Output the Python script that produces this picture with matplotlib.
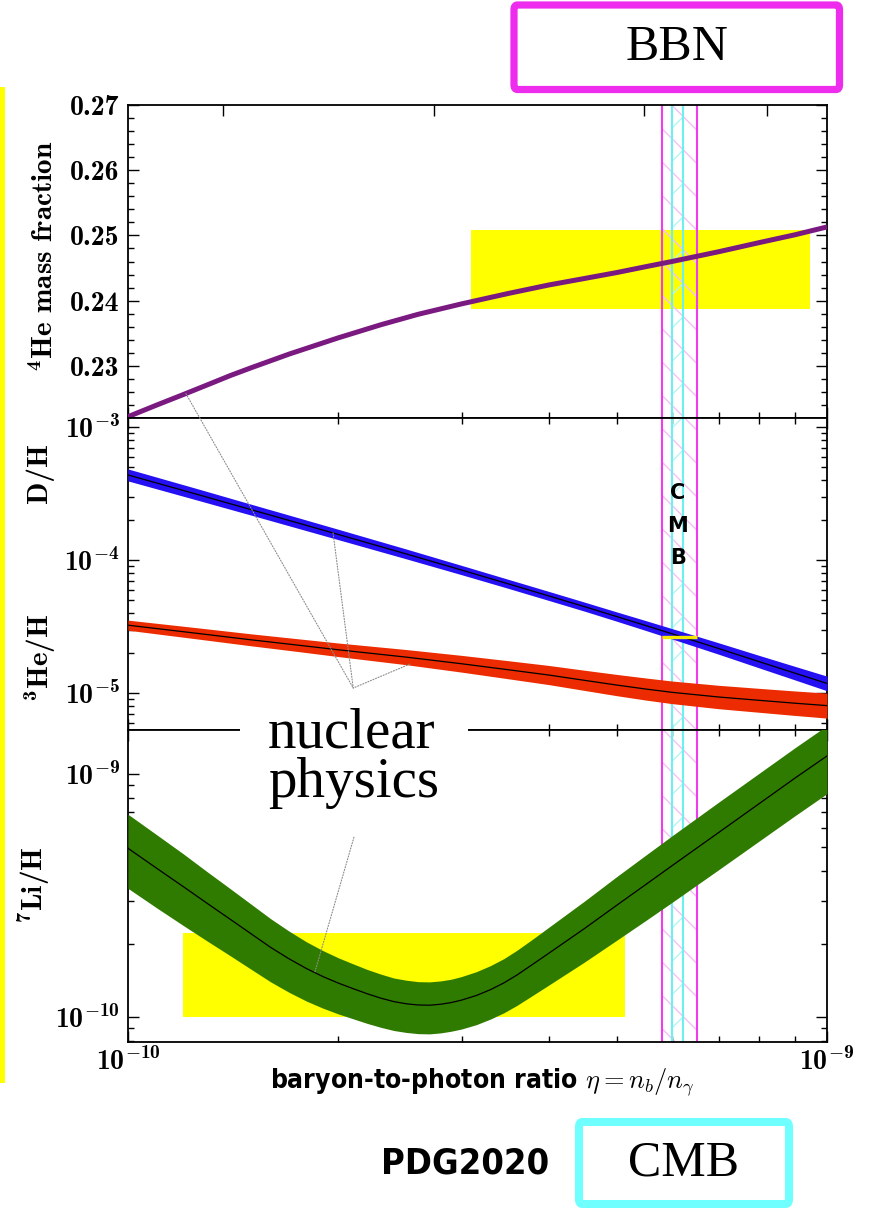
import numpy as np
import matplotlib
matplotlib.use('Agg')
import matplotlib.pyplot as plt
from matplotlib.patches import Rectangle, FancyBboxPatch, ConnectionPatch
from matplotlib.ticker import (LogLocator, FixedLocator, NullLocator,
                               MultipleLocator, NullFormatter)
from matplotlib import font_manager, transforms

plt.rcParams['mathtext.fontset'] = 'cm'
plt.rcParams['hatch.linewidth'] = 1.0

# ---------------- data ----------------
# 4He mass fraction vs eta (in units of 1e-10)
eta_he4 = [1.0, 1.1, 1.2, 1.3, 1.4, 1.5, 1.7, 2.0, 2.3, 2.6, 3.0, 3.5, 4.0,
           4.5, 5.0, 5.5, 6.0, 7.0, 8.0, 9.0, 10.0]
yp_he4 = [0.2222, 0.2240, 0.2256, 0.2271, 0.2285, 0.2297, 0.2318, 0.2343,
          0.2363, 0.2379, 0.2395, 0.2411, 0.2424, 0.2434, 0.2443, 0.2452,
          0.2460, 0.2475, 0.2489, 0.2501, 0.2513]

# D/H and 3He/H vs eta (units 1e-10)
eta_mid = [1.0, 1.25, 1.5, 1.75, 2.0, 2.5, 3.0, 3.5, 4.0, 4.5, 5.0, 5.5, 6.0,
           7.0, 8.0, 9.0, 10.0]
dh_center = [4.365e-4, 3.14e-4, 2.393e-4, 1.901e-4, 1.556e-4, 1.112e-4,
             8.41e-5, 6.62e-5, 5.37e-5, 4.46e-5, 3.76e-5, 3.22e-5, 2.79e-5,
             2.16e-5, 1.72e-5, 1.41e-5, 1.18e-5]
dh_halfwidth_dex = [0.045, 0.043, 0.041, 0.040, 0.039, 0.037, 0.035, 0.034,
                    0.034, 0.034, 0.035, 0.037, 0.039, 0.043, 0.047, 0.051,
                    0.055]
he3_center = [3.236e-5, 2.818e-5, 2.512e-5, 2.291e-5, 2.113e-5, 1.862e-5,
              1.660e-5, 1.496e-5, 1.365e-5, 1.245e-5, 1.148e-5, 1.072e-5,
              1.012e-5, 9.33e-6, 8.81e-6, 8.38e-6, 8.04e-6]
he3_halfwidth_dex = [0.038, 0.042, 0.045, 0.048, 0.051, 0.057, 0.063, 0.068,
                     0.072, 0.076, 0.080, 0.083, 0.085, 0.088, 0.090, 0.092,
                     0.094]

# 7Li/H vs eta (units 1e-10), log10 of the value
eta_li = [1.0, 1.1, 1.2, 1.3, 1.4, 1.5, 1.6, 1.7, 1.8, 1.9, 2.0, 2.1, 2.2,
          2.3, 2.4, 2.5, 2.6, 2.7, 2.8, 2.9, 3.0, 3.15, 3.3, 3.45, 3.6, 3.8,
          4.0, 4.5, 5.0, 5.5, 6.0, 7.0, 8.0, 9.0, 10.0]
li_log_center = [-9.305, -9.388, -9.463, -9.533, -9.597, -9.657, -9.713,
                 -9.760, -9.800, -9.833, -9.860, -9.883, -9.904, -9.922,
                 -9.936, -9.945, -9.950, -9.951, -9.947, -9.940, -9.930,
                 -9.911, -9.887, -9.859, -9.827, -9.781, -9.737, -9.635,
                 -9.540, -9.455, -9.377, -9.240, -9.121, -9.016, -8.925]
li_err_up_dex = [0.140, 0.138, 0.135, 0.130, 0.126, 0.122, 0.118, 0.114,
                 0.110, 0.107, 0.104, 0.102, 0.100, 0.099, 0.097, 0.097,
                 0.096, 0.096, 0.096, 0.096, 0.097, 0.098, 0.099, 0.100,
                 0.102, 0.104, 0.107, 0.113, 0.118, 0.121, 0.123, 0.125,
                 0.125, 0.125, 0.125]
li_err_dn_dex = [0.165, 0.163, 0.160, 0.155, 0.150, 0.146, 0.142, 0.138,
                 0.134, 0.130, 0.127, 0.124, 0.122, 0.120, 0.119, 0.118,
                 0.118, 0.118, 0.118, 0.118, 0.119, 0.120, 0.121, 0.123,
                 0.125, 0.128, 0.131, 0.138, 0.144, 0.148, 0.151, 0.153,
                 0.154, 0.155, 0.155]

# tick labels
he4_ticks = [0.23, 0.24, 0.25, 0.26, 0.27]
mid_ticks = [1e-5, 1e-4, 1e-3]
li_ticks = [1e-10, 1e-9]
x_ticks = [1e-10, 1e-9]

# observational boxes
he4_box_eta = [3.10, 9.46]          # 1e-10
he4_box_y = [0.2387, 0.2508]
li_box_eta = [1.20, 5.14]           # 1e-10
li_box_y = [1.0e-10, 2.22e-10]
dh_obs_value = 2.64e-5

# CMB / BBN eta ranges (1e-10)
bbn_range = [5.81, 6.51]
cmb_range = [6.01, 6.22]

# top axis: baryon density Omega_b h^2 tick positions
omega_ticks = [0.005, 0.01, 0.02, 0.03]
eta_per_omega = 273.9  # eta_10 = 273.9 * Omega_b h^2

# ---------------- colours ----------------
C_PURPLE = '#7a1a80'
C_BLUE = '#2410f2'
C_RED = '#ec2c00'
C_GREEN = '#2f7b00'
C_YELLOW = '#ffff00'
C_MAG = '#ee3cee'
C_CYAN = '#6cf0f0'
C_MAG_H = '#f6c0f6'
C_CYAN_H = '#b8f4f4'

W, H = 869, 1209
fig = plt.figure(figsize=(W / 100, H / 100), dpi=100)


def fx(x):
    return x / W


def fy(y):
    return 1 - y / H


def pick(fams):
    for f in fams:
        try:
            font_manager.findfont(f, fallback_to_default=False)
            return f
        except Exception:
            pass
    return None


SERIF = pick(['Liberation Serif', 'DejaVu Serif']) or 'DejaVu Serif'
has_condensed = any(('Condensed' in f.fname and 'DejaVuSans' in f.fname)
                    for f in font_manager.fontManager.ttflist)
NARROW = pick(['Liberation Sans Narrow', 'DejaVu Sans']) or 'DejaVu Sans'
STRETCH = 'condensed' if has_condensed else 'normal'

# bold Computer Modern for tick labels / axis labels
BOLDCM = pick(['cmb10'])
if BOLDCM:
    plt.rcParams['mathtext.rm'] = BOLDCM
    plt.rcParams['mathtext.it'] = BOLDCM
    plt.rcParams['mathtext.bf'] = BOLDCM
    BOLD_KW = dict(family=BOLDCM, math_fontfamily='custom')
else:
    BOLD_KW = dict(family='DejaVu Serif', fontweight='bold',
                   math_fontfamily='dejavuserif')

TICK_FS = 20


def pow_label(v):
    return r'$10^{%d}$' % int(round(np.log10(v)))


L, R = 128, 827
ax1 = fig.add_axes([fx(L), fy(418), (R - L) / W, (418 - 105) / H])
ax2 = fig.add_axes([fx(L), fy(730), (R - L) / W, (730 - 418) / H])
ax3 = fig.add_axes([fx(L), fy(1042), (R - L) / W, (1042 - 730) / H])

e1 = np.array(eta_he4) * 1e-10
em = np.array(eta_mid) * 1e-10
el = np.array(eta_li) * 1e-10

ax2.set_yscale('log')
ax3.set_yscale('log')

for ax in (ax1, ax2, ax3):
    ax.set_xscale('log')
    ax.set_xlim(1e-10, 1e-9)
    for s in ax.spines.values():
        s.set_linewidth(1.3)
    # BBN and CMB bands
    ax.axvspan(bbn_range[0] * 1e-10, bbn_range[1] * 1e-10, facecolor='none',
               edgecolor=C_MAG_H, hatch='\\', lw=0, zorder=1.5)
    ax.axvspan(cmb_range[0] * 1e-10, cmb_range[1] * 1e-10, facecolor='none',
               edgecolor=C_CYAN_H, hatch='/', lw=0, zorder=1.6)
    for v in bbn_range:
        ax.axvline(v * 1e-10, color=C_MAG, lw=1.5, zorder=1.7)
    for v in cmb_range:
        ax.axvline(v * 1e-10, color=C_CYAN, lw=1.5, zorder=1.8)

# ---- top panel: 4He ----
ax1.add_patch(Rectangle((he4_box_eta[0] * 1e-10, he4_box_y[0]),
                        (he4_box_eta[1] - he4_box_eta[0]) * 1e-10,
                        he4_box_y[1] - he4_box_y[0],
                        facecolor=C_YELLOW, edgecolor='none', zorder=1))
ax1.plot(e1, yp_he4, color=C_PURPLE, lw=3.6, zorder=3, solid_capstyle='butt')

# ---- middle panel: D/H and 3He/H ----
dh = np.array(dh_center)
dhw = 10 ** np.array(dh_halfwidth_dex)
ax2.fill_between(em, dh / dhw, dh * dhw, color=C_BLUE, lw=0, zorder=3)
ax2.plot(em, dh, color='black', lw=0.9, zorder=4)
h3 = np.array(he3_center)
h3w = 10 ** np.array(he3_halfwidth_dex)
ax2.fill_between(em, h3 / h3w, h3 * h3w, color=C_RED, lw=0, zorder=3)
ax2.plot(em, h3, color='black', lw=0.9, zorder=4)
ax2.plot([bbn_range[0] * 1e-10, bbn_range[1] * 1e-10],
         [dh_obs_value, dh_obs_value], color='#f4e800', lw=2.4, zorder=5,
         solid_capstyle='butt')
cmb_mid = np.sqrt(cmb_range[0] * cmb_range[1]) * 1e-10
tr = transforms.blended_transform_factory(ax2.transData, ax2.transAxes)
for letter, yy in zip('CMB', [493, 526, 558]):
    ax2.text(cmb_mid, (730 - yy) / 312, letter, transform=tr, ha='center',
             va='center', fontsize=15, fontweight='bold',
             family='DejaVu Sans', zorder=6)

# ---- bottom panel: 7Li/H ----
ax3.add_patch(Rectangle((li_box_eta[0] * 1e-10, li_box_y[0]),
                        (li_box_eta[1] - li_box_eta[0]) * 1e-10,
                        li_box_y[1] - li_box_y[0],
                        facecolor=C_YELLOW, edgecolor='none', zorder=1))
lc = np.array(li_log_center)
ax3.fill_between(el, 10 ** (lc - np.array(li_err_dn_dex)),
                 10 ** (lc + np.array(li_err_up_dex)), color=C_GREEN, lw=0,
                 zorder=3)
ax3.plot(el, 10 ** lc, color='black', lw=0.9, zorder=4)

# ---- ticks ----
for ax in (ax1, ax2, ax3):
    ax.set_xticks(x_ticks)
    ax.xaxis.set_minor_locator(LogLocator(base=10, subs=np.arange(2, 10),
                                          numticks=20))
    ax.xaxis.set_minor_formatter(NullFormatter())
ax1.set_yticks(he4_ticks)
ax1.set_yticklabels(['%.2f' % v for v in he4_ticks], fontsize=TICK_FS,
                    **BOLD_KW)
ax1.yaxis.set_minor_locator(MultipleLocator(0.002))
ax2.set_yticks(mid_ticks)
ax2.set_yticklabels([pow_label(v) for v in mid_ticks], fontsize=TICK_FS,
                    **BOLD_KW)
ax3.set_yticks(li_ticks)
ax3.set_yticklabels([pow_label(v) for v in li_ticks], fontsize=TICK_FS,
                    **BOLD_KW)
for ax in (ax2, ax3):
    ax.yaxis.set_minor_locator(LogLocator(base=10, subs=np.arange(2, 10),
                                          numticks=20))
    ax.yaxis.set_minor_formatter(NullFormatter())
ax3.set_xticklabels([pow_label(v) for v in x_ticks], fontsize=TICK_FS,
                    **BOLD_KW)
ax1.set_ylim(0.222, 0.27)
ax2.set_ylim(5.27e-6, 1.17e-3)
ax3.set_ylim(7.9e-11, 1.52e-9)
for ax in (ax1, ax2, ax3):
    ax.set_xlim(1e-10, 1e-9)
    ax.tick_params(which='both', direction='in', top=True, right=True,
                   width=1.0, pad=6)
    ax.tick_params(which='major', length=8)
    ax.tick_params(which='minor', length=4)
ax1.tick_params(labelbottom=False, top=False)
ax2.tick_params(labelbottom=False)
ax3.tick_params(axis='x', pad=4)

ax1t = ax1.twiny()
ax1t.set_xscale('log')
ax1t.set_xlim(1e-10, 1e-9)
ax1t.xaxis.set_major_locator(FixedLocator([o * eta_per_omega * 1e-10 for o in omega_ticks]))
ax1t.xaxis.set_minor_locator(NullLocator())
ax1t.xaxis.set_major_formatter(NullFormatter())
ax1t.tick_params(which='both', direction='in', length=8, width=1.0,
                 labeltop=False, labelbottom=False)
ax1t.yaxis.set_visible(False)
for s in ax1t.spines.values():
    s.set_visible(False)

# ---- axis labels ----
fig.text(fx(45), fy(256), r'$^{4}$He mass fraction', rotation=90,
         ha='center', va='center', fontsize=21, **BOLD_KW)
fig.text(fx(40), fy(473), 'D/H', rotation=90, ha='center', va='center',
         fontsize=21, **BOLD_KW)
fig.text(fx(40), fy(658), r'$^{3}$He/H', rotation=90, ha='center',
         va='center', fontsize=21, **BOLD_KW)
fig.text(fx(34), fy(885), r'$^{7}$Li/H', rotation=90, ha='center',
         va='center', fontsize=21, **BOLD_KW)
fig.text(fx(482), fy(1082), r'baryon-to-photon ratio $\eta = n_b/n_\gamma$',
         ha='center', va='center', fontsize=17 if STRETCH == 'normal' else 19,
         fontweight='bold', family=[NARROW, 'DejaVu Sans'], fontstretch=STRETCH,
         math_fontfamily='cm')

# ---- nuclear physics label with dotted pointers ----
fig.patches.append(Rectangle((fx(240), fy(836)), (468 - 240) / W,
                             (836 - 692) / H, transform=fig.transFigure,
                             facecolor='white', edgecolor='none', zorder=5))
fig.text(fx(268), fy(748), 'nuclear', ha='left', va='baseline', fontsize=41,
         family=SERIF, zorder=6)
fig.text(fx(268), fy(797), 'physics', ha='left', va='baseline', fontsize=41,
         family=SERIF, zorder=6)

apex = (2.10e-10, 1.09e-5)
dot_kw = dict(color='#8c8c8c', lw=0.8, linestyle=(0, (1, 1.5)), zorder=7)
pointers = [
    (ax1, (1.21e-10, np.interp(1.21, eta_he4, yp_he4))),
    (ax2, (1.965e-10, np.exp(np.interp(np.log(1.965), np.log(eta_mid), np.log(dh_center))))),
    (ax2, (2.53e-10, np.exp(np.interp(np.log(2.53), np.log(eta_mid), np.log(he3_center))) / 1.12)),
]
for axA, pA in pointers:
    cp = ConnectionPatch(pA, apex, coordsA=axA.transData, coordsB=ax2.transData,
                         **dot_kw)
    fig.add_artist(cp)
li_start = (2.105e-10, 5.5e-10)
li_end = (1.85e-10, 10 ** np.interp(1.85, eta_li, li_log_center))
fig.add_artist(ConnectionPatch(li_start, li_end, coordsA=ax3.transData,
                               coordsB=ax3.transData, **dot_kw))

# ---- decorations: yellow bar, BBN / CMB boxes, PDG2020 ----
fig.patches.append(Rectangle((0, fy(1083)), 5 / W, (1083 - 87) / H,
                             transform=fig.transFigure, facecolor=C_YELLOW,
                             edgecolor='none', zorder=5))
fig.patches.append(FancyBboxPatch((fx(514), fy(89.5)), (839.5 - 514) / W,
                                  (89.5 - 5) / H,
                                  boxstyle='round,pad=0,rounding_size=0.004',
                                  transform=fig.transFigure, facecolor='white',
                                  edgecolor='#ee2cee', lw=5.2, zorder=5))
fig.text(fx(677), fy(48), 'BBN', ha='center', va='center', fontsize=36,
         family=SERIF, zorder=6)
fig.patches.append(FancyBboxPatch((fx(579), fy(1204)), (789 - 579) / W,
                                  (1204 - 1122) / H,
                                  boxstyle='round,pad=0,rounding_size=0.004',
                                  transform=fig.transFigure, facecolor='white',
                                  edgecolor='#70ffff', lw=5.8, zorder=5))
fig.text(fx(684), fy(1163), 'CMB', ha='center', va='center', fontsize=36,
         family=SERIF, zorder=6)
fig.text(fx(465), fy(1163), 'PDG2020', ha='center', va='center',
         fontsize=24 if STRETCH == 'normal' else 26, fontweight='bold',
         family=[NARROW, 'DejaVu Sans'], fontstretch=STRETCH, zorder=6)

fig.savefig('out.png', dpi=100)
